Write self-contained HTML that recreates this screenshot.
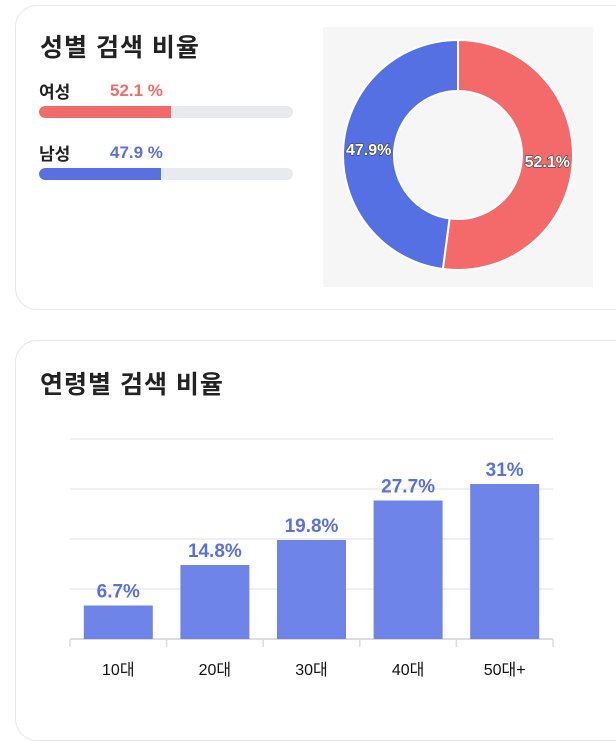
<!DOCTYPE html>
<html><head><meta charset="utf-8"><style>
body{margin:0;width:616px;height:742px;background:#fff;font-family:"Liberation Sans","Noto Sans CJK KR",sans-serif;position:relative;overflow:hidden}
.card{position:absolute;left:15px;width:620px;border:1px solid #e6e6e6;border-radius:22px;background:#fff}
.t{position:absolute;left:24px;font-size:25px;font-weight:bold;color:#222;letter-spacing:1px}
.lab{position:absolute;left:23px;font-size:17px;font-weight:bold;color:#222}
.pct{position:absolute;left:94px;font-size:17px;font-weight:bold}
.track{position:absolute;left:23px;width:254px;height:12px;border-radius:6px;background:#e8ebee;overflow:hidden}
.fill{height:100%;border-radius:6px 0 0 6px}
</style></head><body>
<div class="card" style="top:5px;height:303px">
<div class="t" style="top:22px">성별 검색 비율</div>
<div class="lab" style="top:72px">여성</div>
<div class="pct" style="top:75px;color:#f26b6b">52.1 %</div>
<div class="track" style="top:100px"><div class="fill" style="width:52.1%;background:#f26b6b"></div></div>
<div class="lab" style="top:134px">남성</div>
<div class="pct" style="top:137px;color:#5a6fe0">47.9 %</div>
<div class="track" style="top:162px"><div class="fill" style="width:47.9%;background:#5a6fe0"></div></div>
</div>
<svg id="donut" style="position:absolute;left:323px;top:27px" width="270" height="260"></svg>
<div class="card" style="top:340px;height:399px">
<div class="t" style="top:24px">연령별 검색 비율</div>
</div>
<svg id="bars" style="position:absolute;left:0;top:0" width="616" height="742"></svg>
<script>
const genderLabels=["여성","남성"];
const genderValues=[52.1,47.9];
const genderColors=["#f46a6a","#5470e3"];
const ageCats=["10대","20대","30대","40대","50대+"];
const ageVals=[6.7,14.8,19.8,27.7,31];
const ageTicks=[0,10,20,30,40];
const NS="http://www.w3.org/2000/svg";
function mk(p,t,a){const e=document.createElementNS(NS,t);for(const k in a)e.setAttribute(k,a[k]);p.appendChild(e);return e;}
const d=document.getElementById('donut');
mk(d,'rect',{x:0,y:0,width:270,height:260,fill:'#f6f6f6'});
const cx=135,cy=128,R=115,r=64;
let tot=genderValues.reduce((a,b)=>a+b,0),acc=0;
genderValues.forEach((v,i)=>{
 const a0=acc/tot*2*Math.PI,a1=(acc+v)/tot*2*Math.PI;acc+=v;
 const P=(rad,a)=>[cx+rad*Math.sin(a),cy-rad*Math.cos(a)];
 const [x0,y0]=P(R,a0),[x1,y1]=P(R,a1),[x2,y2]=P(r,a1),[x3,y3]=P(r,a0);
 const lg=(a1-a0)>Math.PI?1:0;
 const s=mk(d,'path',{d:`M${x0},${y0}A${R},${R} 0 ${lg} 1 ${x1},${y1}L${x2},${y2}A${r},${r} 0 ${lg} 0 ${x3},${y3}Z`,fill:genderColors[i],stroke:'#fff','stroke-width':2});
 
 
 const am=(a0+a1)/2,[lx,ly]=P((R+r)/2,am);
 const t=mk(d,'text',{x:lx,y:ly+6,'text-anchor':'middle','font-size':16,'font-weight':'bold',fill:'#fff',stroke:'#444','stroke-width':1.2,'paint-order':'stroke'});
 t.textContent=v+'%';
 
 
});
const b=document.getElementById('bars');
const x0=70,x1=553,y0=639,ppu=5,band=(x1-x0)/ageCats.length,bw=69;
const Y=v=>y0-v*ppu;
ageTicks.forEach(t=>{if(t>0){const g=mk(b,'line',{x1:x0,x2:x1,y1:Y(t),y2:Y(t),stroke:'#f0f0f0','stroke-width':2});

}});
const ax=mk(b,'line',{x1:x0,x2:x1,y1:y0,y2:y0,stroke:'#ddd','stroke-width':2});


ageCats.forEach((c,i)=>{
 const tx=x0+i*band;
 mk(b,'line',{x1:tx,x2:tx,y1:y0,y2:y0+8,stroke:'#ddd','stroke-width':1.5});
 if(i==ageCats.length-1)mk(b,'line',{x1:x1,x2:x1,y1:y0,y2:y0+8,stroke:'#ddd','stroke-width':1.5});
 const cxm=tx+band/2,v=ageVals[i];
 const rc=mk(b,'rect',{x:cxm-bw/2,y:Y(v),width:bw,height:v*ppu,fill:'#6e84e9'});
 
 
 const vt=mk(b,'text',{x:cxm,y:Y(v)-8,'text-anchor':'middle','font-size':19,'font-weight':'bold',fill:'#5a6fe0'});
 vt.textContent=v+'%';
 
 
 const lt=mk(b,'text',{x:cxm,y:675,'text-anchor':'middle','font-size':16,fill:'#111'});
 lt.textContent=c;
 
 
});
</script>
</body></html>
